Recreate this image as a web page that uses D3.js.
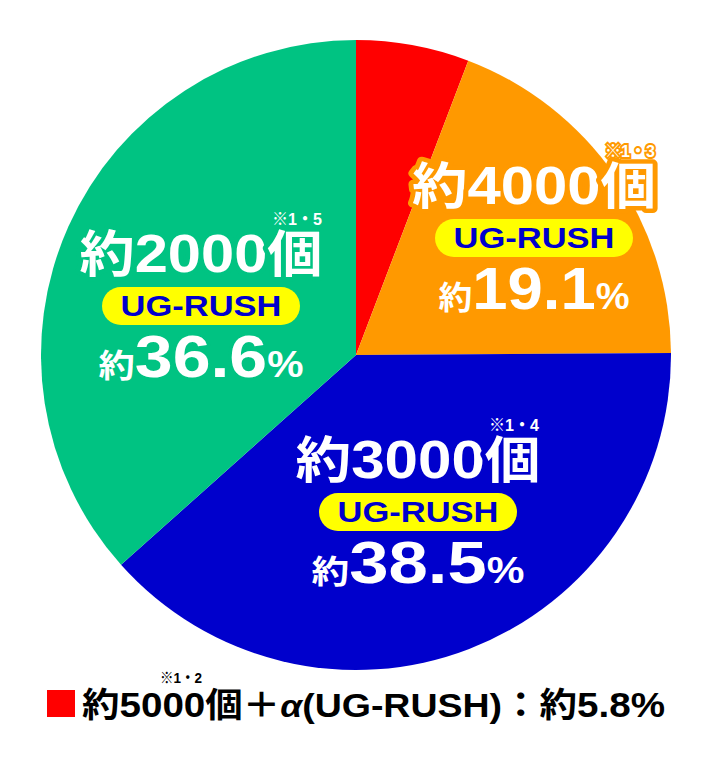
<!DOCTYPE html>
<html><head><meta charset="utf-8">
<script src="https://cdn.jsdelivr.net/npm/d3@7"></script>
<style>html,body{margin:0;padding:0;background:#fff;}svg{display:block;}</style>
</head><body>
<script>
// ---- data ----
const counts = ["5000", "4000", "3000", "2000"];
const shares = [5.8, 19.1, 38.5, 36.6];
const notes = ["※1・2", "※1・3", "※1・4", "※1・5"];
const rushLabel = "UG-RUSH";
const colors = ["#ff0000", "#ff9900", "#0000cc", "#00c382"];

// ---- layout (not data) ----
const W = 712, H = 762, cx = 356, cy = 355, R = 315;
const FONT = "'Liberation Sans', Arial, 'Noto Sans CJK JP', sans-serif";
const labelPos = [null, {x: 534, y: 204, l1: 244, l3: 191}, {x: 418, y: 478, l1: 245, l3: 213}, {x: 201, y: 272, l1: 243, l3: 205}];

const svg = d3.select("body").append("svg").attr("width", W).attr("height", H);

const pie = d3.pie().sort(null).value(d => d)(shares);
const arc = d3.arc().innerRadius(0).outerRadius(R);
const g = svg.append("g").attr("transform", `translate(${cx},${cy})`);
g.selectAll("path").data(pie).join("path")
  .attr("d", arc).attr("fill", (d, i) => colors[i]);

pie.forEach((d, i) => {
  const p = labelPos[i];
  if (!p) return;
  const col = colors[i];
  const lg = svg.append("g").attr("font-family", FONT).attr("font-weight", "bold");
  lg.append("text").attr("x", p.x + 121).attr("y", p.y - 47).attr("text-anchor", "end")
    .attr("font-size", 17).attr("fill", "#fff").attr("stroke", col).attr("stroke-width", 4)
    .attr("paint-order", "stroke").attr("textLength", 50).attr("lengthAdjust", "spacingAndGlyphs")
    .text(notes[i]);
  const t1 = lg.append("text").attr("x", p.x).attr("y", p.y).attr("text-anchor", "middle")
    .attr("fill", "#fff").attr("stroke", col).attr("stroke-width", 9).attr("stroke-linejoin", "round")
    .attr("paint-order", "stroke").attr("textLength", p.l1).attr("lengthAdjust", "spacingAndGlyphs");
  t1.append("tspan").attr("font-size", 50).text("約");
  t1.append("tspan").attr("font-size", 54).text(counts[i]);
  t1.append("tspan").attr("font-size", 50).text("個");
  lg.append("rect").attr("x", p.x - 99).attr("y", p.y + 15).attr("width", 198).attr("height", 38)
    .attr("rx", 19).attr("fill", "#ffff00");
  lg.append("text").attr("x", p.x).attr("y", p.y + 44).attr("text-anchor", "middle")
    .attr("font-size", 29).attr("fill", "#0000cc").attr("textLength", 161).attr("lengthAdjust", "spacingAndGlyphs")
    .text(rushLabel);
  const t3 = lg.append("text").attr("x", p.x).attr("y", p.y + 105).attr("text-anchor", "middle")
    .attr("fill", "#fff").attr("stroke", col).attr("stroke-width", 6).attr("stroke-linejoin", "round")
    .attr("paint-order", "stroke").attr("textLength", p.l3).attr("lengthAdjust", "spacingAndGlyphs");
  t3.append("tspan").attr("font-size", 32).text("約");
  t3.append("tspan").attr("font-size", 60).text(shares[i].toFixed(1));
  t3.append("tspan").attr("font-size", 36).text("%");
});

// legend
const leg = svg.append("g").attr("font-family", FONT).attr("font-weight", "bold");
leg.append("rect").attr("x", 47).attr("y", 690).attr("width", 28).attr("height", 27).attr("fill", colors[0]);
leg.append("text").attr("x", 160).attr("y", 683).attr("font-size", 15).attr("fill", "#000")
  .attr("textLength", 42).attr("lengthAdjust", "spacingAndGlyphs").text(notes[0]);
const lt = leg.append("text").attr("x", 82).attr("y", 717).attr("fill", "#000")
  .attr("textLength", 583).attr("lengthAdjust", "spacingAndGlyphs");
lt.append("tspan").attr("font-size", 34).text("約");
lt.append("tspan").attr("font-size", 35).text(counts[0]);
lt.append("tspan").attr("font-size", 34).text("個＋");
lt.append("tspan").attr("font-size", 32).attr("font-style", "italic").text("α");
lt.append("tspan").attr("font-size", 34).text("(" + rushLabel + ")：約");
lt.append("tspan").attr("font-size", 35).text(shares[0].toFixed(1) + "%");
</script>
</body></html>
